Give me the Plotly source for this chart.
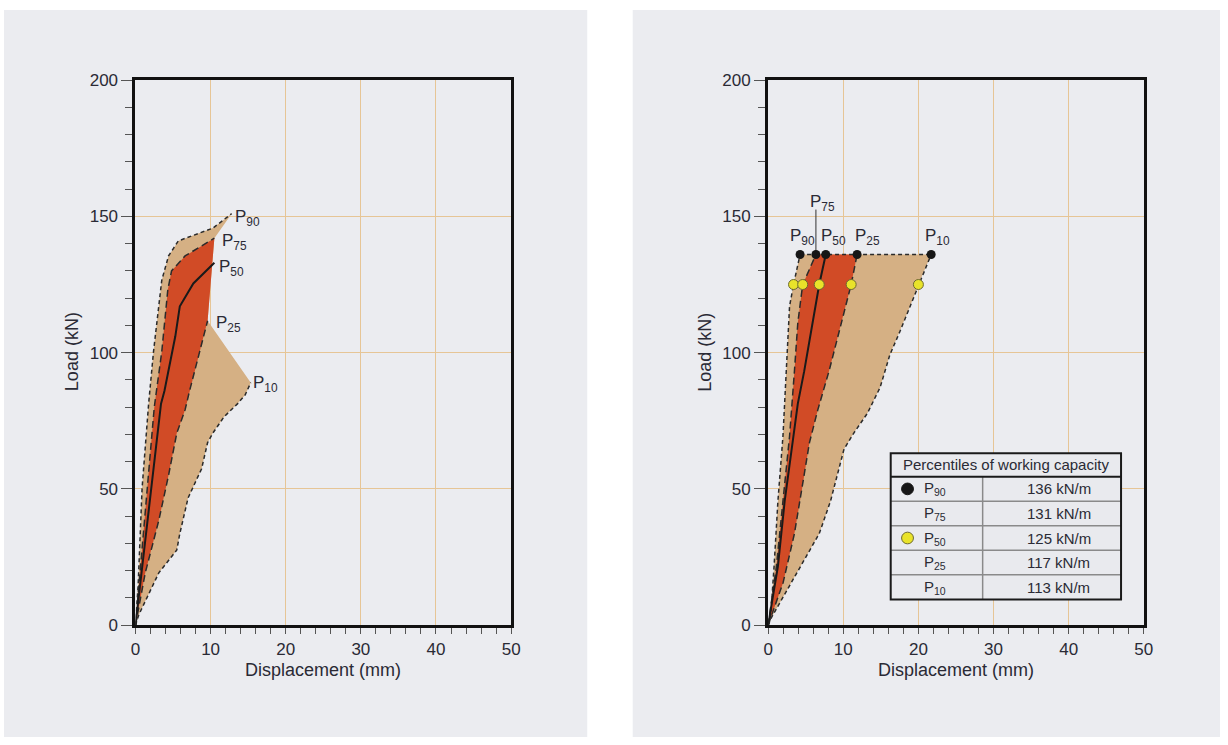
import plotly.graph_objects as go

# Target canvas is 1228x745; the page body keeps an 8px margin (top/left),
# so the figure is drawn 8px smaller and every pixel position is shifted by 8px.
W, H = 1228, 745
OFF = 8
FW, FH = W - OFF, H - OFF

# ---------------- DATA ----------------
# Left panel: load-displacement percentile curves (displacement mm, load kN)
L_P90_x = [0, 0.35, 0.88, 1.75, 2.4, 3.3, 3.5, 4.4, 5.7, 10.3, 12.8]
L_P90_y = [0, 14.5, 50.3, 81.3, 100.4, 123, 126.6, 135.5, 141, 145.7, 151]
L_P75_x = [0, 0.44, 1.54, 2.5, 3.5, 4.3, 4.8, 6.6, 10.5]
L_P75_y = [0, 14.5, 50.3, 80, 100.4, 123, 130, 135.5, 142]
L_P50_x = [0, 1.1, 2.4, 3.4, 3.86, 5.3, 5.9, 7.7, 10.5]
L_P50_y = [0, 26.4, 56, 81.3, 86, 106, 117, 125.4, 133]
L_P25_x = [0, 1.3, 3.1, 4.4, 5.5, 6.6, 7.2, 9.2, 9.6]
L_P25_y = [0, 19.2, 38.4, 55, 70.5, 79, 86, 107.5, 111.7]
L_P10_x = [0, 0.44, 3.1, 5.5, 5.9, 7.0, 8.8, 9.6, 10.3, 11.8, 13.6, 14.6, 15.35]
L_P10_y = [0, 3.8, 19.2, 27.6, 33.6, 46.7, 57.4, 67, 70.5, 76.5, 81.3, 84.5, 89]

# Right panel: curves truncated at the P90 working capacity
R_P90_x = [0, 0.35, 0.79, 1.3, 1.97, 2.4, 2.85, 3.38, 4.25]
R_P90_y = [0, 3.8, 21.6, 45.5, 69.3, 93.2, 117, 125, 136]
R_P75_x = [0, 1.1, 1.97, 2.85, 3.5, 3.95, 4.6, 6.36]
R_P75_y = [0, 21.6, 45.5, 69.3, 93.2, 111, 125, 136]
R_P50_x = [0, 1.3, 2.2, 3.07, 3.95, 4.8, 5.9, 6.8, 7.67]
R_P50_y = [0, 21.6, 45.5, 63.4, 81.3, 93.2, 111, 125, 136]
R_P25_x = [0, 2.0, 3.5, 4.6, 5.5, 6.6, 8.1, 9.2, 10.3, 11.05, 11.84]
R_P25_y = [0, 15.7, 33.6, 51.4, 67, 78.9, 93.2, 105, 117, 125, 136]
R_P10_x = [0, 0.4, 3.1, 4.8, 6.8, 8.3, 9.4, 10.1, 11.4, 13.2, 14.9, 16.2, 17.5, 18.9, 20.0, 21.7]
R_P10_y = [0, 2.6, 15.7, 24, 33.6, 45.5, 57.4, 64.6, 70.5, 77.7, 87.2, 99.2, 107.5, 117, 125, 136]

# Working-capacity markers
black_x = [4.25, 6.36, 7.67, 11.84, 21.7]   # at P90 capacity
black_load = 136
yellow_x = [3.38, 4.6, 6.8, 11.05, 20.0]    # at P50 capacity
yellow_load = 125

# Table
pct_labels = ["90", "75", "50", "25", "10"]
capacities = [136, 131, 125, 117, 113]

# ---------------- STYLE ----------------
PANEL = "#EBECF0"
CREAM = "#F9ECD7"
GRID = "#E6C596"
TAN = "#D5B084"
RED = "#D14B26"
LINE = "#2b2b2b"
YELLOW = "#E9E32A"
TXT = "#2a2a35"
FONT = "Liberation Sans, Arial, Helvetica, sans-serif"


def px(x):
    return (x - OFF) / FW


def py(y):
    return 1 - (y - OFF) / FH


fig = go.Figure()


def poly(xs, ys, color, ax):
    fig.add_trace(go.Scatter(x=xs, y=ys, fill="toself", fillcolor=color, mode="lines",
                             line=dict(width=0), hoverinfo="skip", showlegend=False,
                             xaxis="x" + ax, yaxis="y" + ax))


def curve(xs, ys, ax, dash, width=1.5, color=LINE):
    fig.add_trace(go.Scatter(x=xs, y=ys, mode="lines", line=dict(color=color, width=width, dash=dash),
                             hoverinfo="skip", showlegend=False, xaxis="x" + ax, yaxis="y" + ax))


SHORT = "4px,3px"
LONG = "7px,4px"

# Left panel
poly(L_P90_x + [L_P75_x[-1], L_P25_x[-1]] + L_P10_x[::-1],
     L_P90_y + [L_P75_y[-1], L_P25_y[-1]] + L_P10_y[::-1], TAN, "")
poly(L_P75_x + L_P25_x[::-1], L_P75_y + L_P25_y[::-1], RED, "")
curve(L_P90_x, L_P90_y, "", SHORT)
curve(L_P10_x, L_P10_y, "", SHORT)
curve(L_P75_x, L_P75_y, "", LONG)
curve(L_P25_x, L_P25_y, "", LONG)
curve(L_P50_x, L_P50_y, "", "solid", 2, "#1a1a1a")

# Right panel
poly(R_P90_x + R_P10_x[::-1], R_P90_y + R_P10_y[::-1], TAN, "2")
poly(R_P75_x + R_P25_x[::-1], R_P75_y + R_P25_y[::-1], RED, "2")
curve(R_P90_x, R_P90_y, "2", SHORT)
curve(R_P10_x, R_P10_y, "2", SHORT)
curve(R_P75_x, R_P75_y, "2", LONG)
curve(R_P25_x, R_P25_y, "2", LONG)
curve(R_P50_x, R_P50_y, "2", "solid", 2, "#1a1a1a")
curve([black_x[0], black_x[-1]], [black_load, black_load], "2", SHORT)
# leader line for P75 label
curve([black_x[1], black_x[1]], [black_load, 152.5], "2", "solid", 1, "#333")

fig.add_trace(go.Scatter(x=yellow_x, y=[yellow_load] * len(yellow_x), mode="markers",
                         marker=dict(size=10, color=YELLOW, line=dict(color="#6d6a30", width=1)),
                         hoverinfo="skip", showlegend=False, xaxis="x2", yaxis="y2"))
fig.add_trace(go.Scatter(x=black_x, y=[black_load] * len(black_x), mode="markers",
                         marker=dict(size=9, color="#161616", line=dict(width=0)),
                         hoverinfo="skip", showlegend=False, xaxis="x2", yaxis="y2"))

annotations = []


def lab(x, y, sub, ax, xanchor="left"):
    annotations.append(dict(x=x, y=y, xref="x" + ax, yref="y" + ax, text="P<sub>" + sub + "</sub>",
                            showarrow=False, xanchor=xanchor, yanchor="middle",
                            font=dict(family=FONT, size=17, color=TXT)))


# Left labels (positions in data units)
lab(13.0, 149.5, "90", "")
lab(11.2, 140.5, "75", "")
lab(10.9, 131.0, "50", "")
lab(10.4, 110.5, "25", "")
lab(15.4, 88.5, "10", "")
# Right labels
lab(2.7, 142.5, "90", "2")
lab(5.3, 155.0, "75", "2")
lab(6.8, 142.5, "50", "2")
lab(11.3, 142.5, "25", "2")
lab(20.6, 142.5, "10", "2")

# Axis titles
for cx in (330, 970):
    annotations.append(dict(x=px(cx), y=py(686), xref="paper", yref="paper", text="Displacement (mm)",
                            showarrow=False, xanchor="center", yanchor="middle",
                            font=dict(family=FONT, size=18, color=TXT)))
for cx in (76, 716):
    annotations.append(dict(x=px(cx), y=py(360), xref="paper", yref="paper", text="Load (kN)",
                            showarrow=False, xanchor="center", yanchor="middle", textangle=-90,
                            font=dict(family=FONT, size=18, color=TXT)))

shapes = []
# Panels
shapes.append(dict(type="rect", xref="paper", yref="paper", x0=px(7), x1=px(597), y0=-0.05, y1=py(9),
                   fillcolor=PANEL, line=dict(width=0), layer="below"))
shapes.append(dict(type="rect", xref="paper", yref="paper", x0=px(643), x1=1.05, y0=-0.05, y1=py(9),
                   fillcolor=PANEL, line=dict(width=0), layer="below"))

# Table
TX0, TX1, TY0, TY1 = 904, 1137, 464, 614
HEAD = 488
rows = [HEAD + i * (TY1 - HEAD) / 5 for i in range(6)]
COL = 997
shapes.append(dict(type="rect", xref="paper", yref="paper", x0=px(TX0), x1=px(TX1), y0=py(TY1), y1=py(TY0),
                   fillcolor="#E9EAEE", line=dict(width=0), layer="above"))
for yv in rows[1:-1]:
    shapes.append(dict(type="line", xref="paper", yref="paper", x0=px(TX0), x1=px(TX1), y0=py(yv), y1=py(yv),
                       line=dict(color="#8a8a8a", width=1.5), layer="above"))
shapes.append(dict(type="line", xref="paper", yref="paper", x0=px(COL), x1=px(COL), y0=py(HEAD), y1=py(TY1),
                   line=dict(color="#8a8a8a", width=1.5), layer="above"))
shapes.append(dict(type="line", xref="paper", yref="paper", x0=px(TX0), x1=px(TX1), y0=py(HEAD), y1=py(HEAD),
                   line=dict(color="#1a1a1a", width=2), layer="above"))
shapes.append(dict(type="rect", xref="paper", yref="paper", x0=px(TX0), x1=px(TX1), y0=py(TY1), y1=py(TY0),
                   line=dict(color="#1a1a1a", width=2), fillcolor="rgba(0,0,0,0)", layer="above"))
# marker symbols in table
for i, (col, lc) in {0: ("#161616", "#161616"), 2: (YELLOW, "#6d6a30")}.items():
    cy = (rows[i] + rows[i + 1]) / 2
    r = 6
    shapes.append(dict(type="circle", xref="paper", yref="paper", x0=px(921 - r), x1=px(921 + r),
                       y0=py(cy + r), y1=py(cy - r), fillcolor=col, line=dict(color=lc, width=1),
                       layer="above"))

annotations.append(dict(x=px((TX0 + TX1) / 2), y=py((TY0 + HEAD) / 2), xref="paper", yref="paper",
                        text="Percentiles of working capacity", showarrow=False, xanchor="center",
                        yanchor="middle", font=dict(family=FONT, size=15, color=TXT)))
for i, (p, c) in enumerate(zip(pct_labels, capacities)):
    cy = (rows[i] + rows[i + 1]) / 2
    annotations.append(dict(x=px(936), y=py(cy), xref="paper", yref="paper", text="P<sub>" + p + "</sub>",
                            showarrow=False, xanchor="left", yanchor="middle",
                            font=dict(family=FONT, size=15, color=TXT)))
    annotations.append(dict(x=px(1074), y=py(cy), xref="paper", yref="paper", text=f"{c} kN/m",
                            showarrow=False, xanchor="center", yanchor="middle",
                            font=dict(family=FONT, size=15, color=TXT)))

xcommon = dict(range=[0, 50], dtick=10, tick0=0, showgrid=True, gridcolor=GRID, gridwidth=1,
               zeroline=False, showline=True, linecolor="#111", linewidth=3, mirror=True,
               ticks="outside", ticklen=6, tickwidth=1.3, tickcolor="#555",
               tickfont=dict(family=FONT, size=17, color=TXT),
               minor=dict(dtick=2, ticks="outside", ticklen=6, tickwidth=1.3, tickcolor="#555", showgrid=False),
               fixedrange=True)
ycommon = dict(range=[0, 200], dtick=50, tick0=0, showgrid=True, gridcolor=GRID, gridwidth=1,
               zeroline=False, showline=True, linecolor="#111", linewidth=3, mirror=True,
               ticks="outside", ticklen=11, tickwidth=1.3, tickcolor="#555",
               tickfont=dict(family=FONT, size=17, color=TXT),
               minor=dict(dtick=10, ticks="outside", ticklen=7, tickwidth=1.3, tickcolor="#555", showgrid=False),
               fixedrange=True)

ydom = [py(640.5), py(81)]
fig.update_layout(
    width=FW, height=FH, autosize=False,
    margin=dict(l=0, r=0, t=0, b=0),
    paper_bgcolor="white", plot_bgcolor=CREAM,
    showlegend=False,
    xaxis=dict(domain=[px(140), px(520)], anchor="y", **xcommon),
    yaxis=dict(domain=ydom, anchor="x", **ycommon),
    xaxis2=dict(domain=[px(780), px(1160)], anchor="y2", **xcommon),
    yaxis2=dict(domain=ydom, anchor="x2", **ycommon),
    shapes=shapes,
    annotations=annotations,
    font=dict(family=FONT),
)

fig.write_html("out.html", config={"displayModeBar": False})
